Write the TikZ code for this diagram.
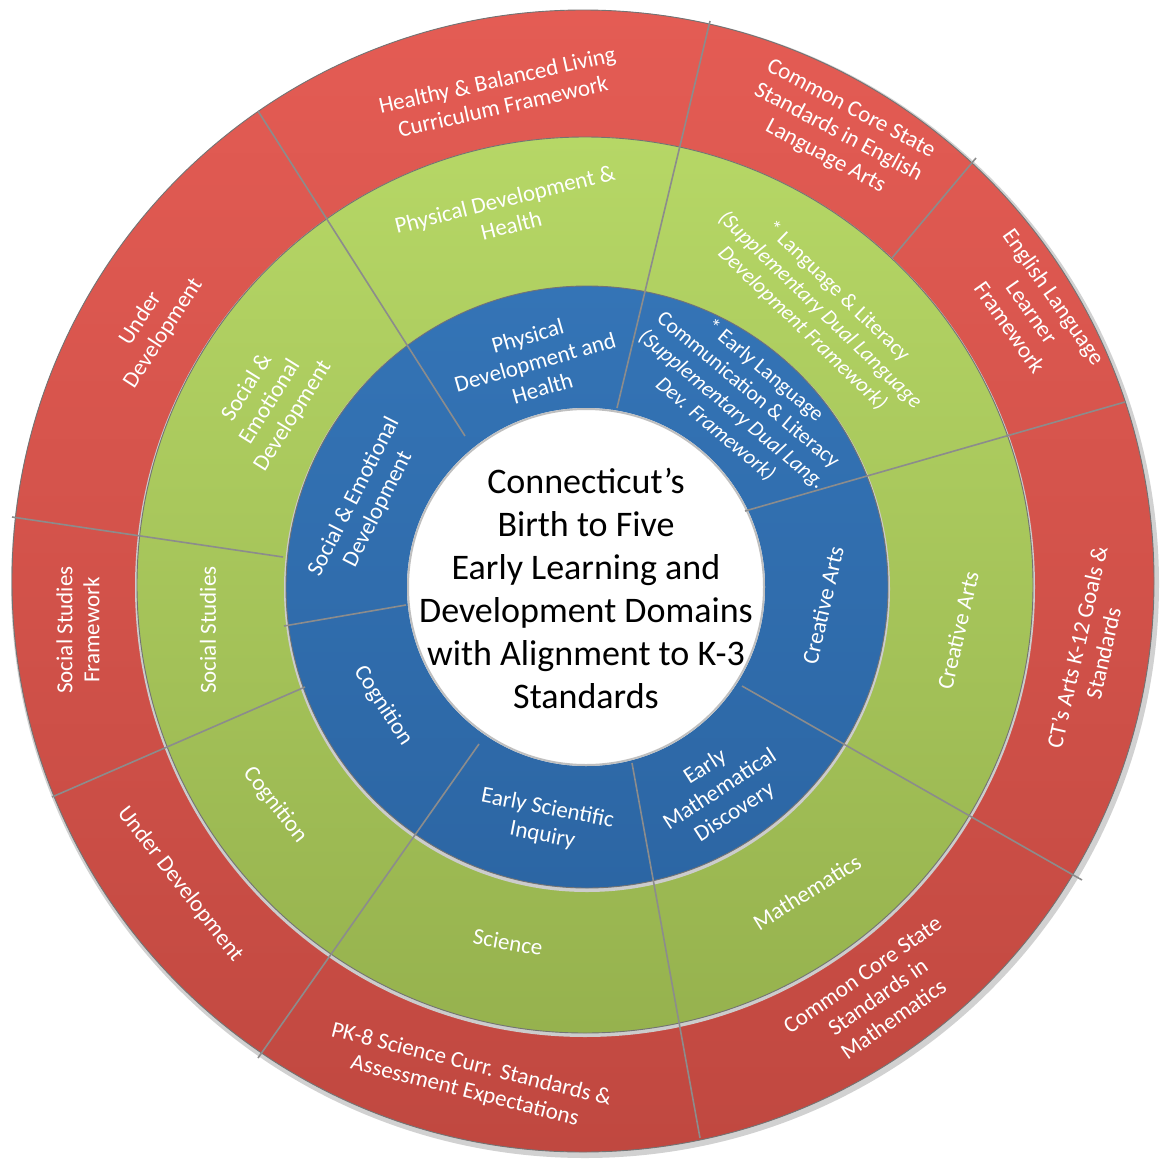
\documentclass[tikz,border=0pt]{standalone}
\usepackage{fontspec}
\setmainfont{Carlito}
\usetikzlibrary{shadings}
\definecolor{redtop}{RGB}{228,92,84}
\definecolor{redbot}{RGB}{192,72,64}
\definecolor{greentop}{RGB}{182,215,102}
\definecolor{greenbot}{RGB}{150,178,78}
\definecolor{bluetop}{RGB}{52,116,182}
\definecolor{bluebot}{RGB}{44,102,164}
\definecolor{divgray}{RGB}{140,140,140}
\begin{document}
\begin{tikzpicture}[x=1pt,y=-1pt,
  ringtext/.style={text=white, align=center, inner sep=0pt, font=\fontsize{23}{27}\selectfont},
  smalltext/.style={ringtext, font=\fontsize{21.5}{25.5}\selectfont},
  centertext/.style={text=black, align=center, inner sep=0pt, font=\fontsize{36}{43}\selectfont},
  divider/.style={draw=divgray, line width=1.6pt},
  ringedge/.style={draw=black!55, line width=0.9pt}]
\useasboundingbox (0,0) rectangle (1162,1159);
\fill[white] (0,0) rectangle (1162,1159);
% soft shadow
\fill[black!18] (585,584) circle (574pt);
% rings
\shadedraw[top color=redtop, bottom color=redbot, ringedge] (583,581) circle (571pt);
\fill[black!20] (585,587) circle (450pt);
\shadedraw[top color=greentop, bottom color=greenbot, ringedge] (585,585) circle (448pt);
\fill[black!20] (587,589) circle (303pt);
\shadedraw[top color=bluetop, bottom color=bluebot, ringedge] (587,587) circle (301pt);
\fill[white] (586,587) circle (179pt);
\draw[black!25, line width=2pt] (586,587) circle (178pt);
% divider end points
\coordinate (l1a) at (258,111); \coordinate (l1b) at (465,436);
\coordinate (l2a) at (710,21);  \coordinate (l2b) at (617,408);
\coordinate (l3a) at (976,158); \coordinate (l3b) at (892,258);
\coordinate (l4a) at (1125,402); \coordinate (l4b) at (745,511);
\coordinate (l5a) at (742,686); \coordinate (l5b) at (1082,880);
\coordinate (l6a) at (632,763); \coordinate (l6b) at (700,1138);
\coordinate (l7a) at (479,744); \coordinate (l7b) at (258,1058);
\coordinate (l8a) at (12,517);  \coordinate (l8b) at (283,557);
\coordinate (l9a) at (406,605); \coordinate (l9b) at (284,626);
\coordinate (l10a) at (305,687); \coordinate (l10b) at (52,797);
\foreach \i in {1,...,10} {\draw[divider] (l\i a) -- (l\i b);}
% center
\node[centertext] (title) at (586,588) {Connecticut’s\\Birth to Five\\Early Learning and\\Development Domains\\with Alignment to K-3\\Standards};
% red ring
\node[ringtext, rotate=12.5] (r1) at (500,93) {Healthy \& Balanced Living\\Curriculum Framework};
\node[ringtext, rotate=-28] (r2) at (838,133) {Common Core State\\Standards in English\\Language Arts};
\node[ringtext, rotate=-55] (r3) at (1032,312) {English Language\\Learner\\Framework};
\node[ringtext, rotate=77] (r4) at (1090,650) {CT’s Arts K-12 Goals \&\\Standards};
\node[ringtext, rotate=35] (r5) at (878,997) {Common Core State\\Standards in\\Mathematics};
\node[ringtext, rotate=-14] (r6) at (468,1078) {PK-8 Science Curr. Standards \&\\Assessment Expectations};
\node[ringtext, rotate=-52] (r7) at (180,884) {Under Development};
\node[ringtext, rotate=90] (r8) at (78,630) {Social Studies\\Framework};
\node[ringtext, rotate=57] (r9) at (152,326) {Under\\Development};
% green ring
\node[ringtext, rotate=14] (g1) at (508,212) {Physical Development \&\\Health};
\node[smalltext, rotate=-44] (g2) at (820,310) {* Language \& Literacy\\{\itshape (Supplementary Dual Language}\\{\itshape Development Framework)}};
\node[ringtext, rotate=77] (g3) at (958,630) {Creative Arts};
\node[ringtext, rotate=32] (g4) at (807,892) {Mathematics};
\node[ringtext, rotate=-10] (g5) at (508,942) {Science};
\node[ringtext, rotate=-52] (g6) at (275,805) {Cognition};
\node[ringtext, rotate=90] (g7) at (208,630) {Social Studies};
\node[ringtext, rotate=58] (g8) at (270,402) {Social \&\\Emotional\\Development};
% blue ring
\node[ringtext, rotate=16] (b1) at (535,362) {Physical\\Development and\\Health};
\node[smalltext, rotate=-40] (b2) at (740,400) {* Early  Language\\Communication \& Literacy\\{\itshape (Supplementary Dual Lang.}\\{\itshape Dev. Framework)}};
\node[ringtext, rotate=77] (b3) at (823,605) {Creative Arts};
\node[ringtext, rotate=33] (b4) at (720,790) {Early\\Mathematical\\Discovery};
\node[ringtext, rotate=-11] (b5) at (545,822) {Early Scientific\\Inquiry};
\node[ringtext, rotate=-57] (b6) at (383,706) {Cognition};
\node[ringtext, rotate=63] (b7) at (366,503) {Social \& Emotional\\Development};
\end{tikzpicture}
\end{document}
